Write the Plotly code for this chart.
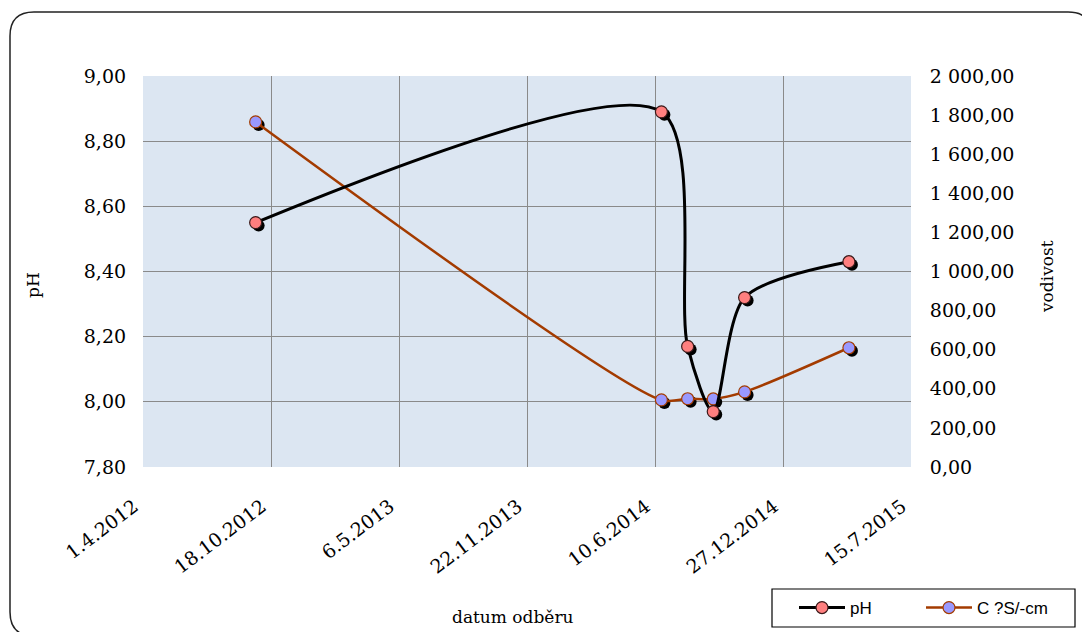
import plotly.graph_objects as go
import pandas as pd

# ---------------- data ----------------
DATES = ["2012-09-24", "2014-06-20", "2014-07-31", "2014-09-09", "2014-10-28", "2015-04-09"]
PH = [8.55, 8.89, 8.17, 7.97, 8.32, 8.43]
COND = [1765, 343, 349, 348, 384, 610]

X_TICKS = ["2012-04-01", "2012-10-18", "2013-05-06", "2013-11-22", "2014-06-10", "2014-12-27", "2015-07-15"]
X_TICK_TEXT = ["1.4.2012", "18.10.2012", "6.5.2013", "22.11.2013", "10.6.2014", "27.12.2014", "15.7.2015"]
PH_RANGE = [7.8, 9.0]
PH_DTICK = 0.2
COND_RANGE = [0, 2000]
COND_DTICK = 200

SERIES_NAMES = ["pH", "C ?S/-cm"]
X_TITLE = "datum odběru"
Y_TITLE = "pH"
Y2_TITLE = "vodivost"

# ---------------- layout geometry (pixels) ----------------
W, H = 1082, 632
L, R, T, B = 143, 911, 76, 467
PW, PH_PX = R - L, B - T
SHADOW = 3  # px

def px_x(p):
    return (p - L) / PW

def px_y(p):
    return (B - p) / PH_PX

SERIF = "DejaVu Serif"
SANS = "Liberation Sans"

x0 = pd.Timestamp(X_TICKS[0])
x1 = pd.Timestamp(X_TICKS[-1])
days_per_px = (x1 - x0).days / PW
dx = pd.Timedelta(days=SHADOW * days_per_px)
ph_per_px = (PH_RANGE[1] - PH_RANGE[0]) / PH_PX
cond_per_px = (COND_RANGE[1] - COND_RANGE[0]) / PH_PX

fig = go.Figure()

# shadows (drawn first)
fig.add_trace(go.Scatter(x=DATES, y=PH, xaxis="x2", yaxis="y3", mode="markers",
                         marker=dict(size=12, color="black"), showlegend=False,
                         hoverinfo="skip", zorder=0))
fig.add_trace(go.Scatter(x=DATES, y=COND, xaxis="x2", yaxis="y4", mode="markers",
                         marker=dict(size=12, color="black"), showlegend=False,
                         hoverinfo="skip", zorder=0))

fig.add_trace(go.Scatter(x=DATES, y=PH, name=SERIES_NAMES[0], mode="lines+markers",
                         line=dict(color="black", width=3, shape="spline", smoothing=0.8),
                         marker=dict(size=12, color="#FF7F7F", line=dict(color="#3a1a1a", width=1.2)),
                         zorder=2, legend="legend"))
fig.add_trace(go.Scatter(x=DATES, y=COND, name=SERIES_NAMES[1], yaxis="y2", mode="lines+markers",
                         line=dict(color="#A33B00", width=2.5, shape="spline", smoothing=0.8),
                         marker=dict(size=12, color="#9999FF", line=dict(color="#A33B00", width=1.2)),
                         zorder=1, legend="legend2"))

grid = "#8a8a8a"
leg_common = dict(orientation="h", xanchor="left", yanchor="top",
                  borderwidth=0, bgcolor="rgba(0,0,0,0)",
                  font=dict(family=SANS, size=17), itemwidth=46)
fig.update_layout(
    width=W, height=H,
    margin=dict(l=L, r=W - R, t=T, b=H - B, pad=0, autoexpand=False),
    paper_bgcolor="white",
    plot_bgcolor="#DCE6F2",
    separators=", ",
    font=dict(family=SERIF, size=19, color="black"),
    xaxis=dict(type="date", range=[x0, x1], tickvals=X_TICKS, ticktext=X_TICK_TEXT,
               tickangle=-37, showgrid=True, gridcolor=grid, gridwidth=1,
               showline=True, linecolor="#333", linewidth=1.2, mirror=True,
               ticks="outside", ticklen=20, tickcolor="rgba(0,0,0,0)",
               ticklabelshift=-9,
               zeroline=False, automargin=False),
    yaxis=dict(range=PH_RANGE, dtick=PH_DTICK, tick0=PH_RANGE[0], tickformat=",.2f",
               showgrid=True, gridcolor=grid, gridwidth=1,
               showline=True, linecolor="#333", linewidth=1.2, mirror=True,
               ticks="outside", ticklen=12, tickcolor="rgba(0,0,0,0)", zeroline=False,
               automargin=False),
    yaxis2=dict(range=COND_RANGE, dtick=COND_DTICK, tick0=0, tickformat=",.2f",
                overlaying="y", side="right", showgrid=False,
                ticks="outside", ticklen=14, tickcolor="rgba(0,0,0,0)", zeroline=False,
                automargin=False),
    xaxis2=dict(type="date", overlaying="x", visible=False,
                range=[x0 - dx, x1 - dx]),
    yaxis3=dict(overlaying="y", visible=False,
                range=[PH_RANGE[0] + SHADOW * ph_per_px, PH_RANGE[1] + SHADOW * ph_per_px]),
    yaxis4=dict(overlaying="y", visible=False,
                range=[COND_RANGE[0] + SHADOW * cond_per_px, COND_RANGE[1] + SHADOW * cond_per_px]),
    legend=dict(x=px_x(794), y=px_y(590), **leg_common),
    legend2=dict(x=px_x(921), y=px_y(590), **leg_common),
    showlegend=True,
)

fig.add_annotation(text=X_TITLE, xref="paper", yref="paper", x=px_x(513), y=px_y(617),
                   xanchor="center", yanchor="middle",
                   showarrow=False, font=dict(family=SERIF, size=17))
fig.add_annotation(text=Y_TITLE, xref="paper", yref="paper", x=px_x(33), y=px_y(285),
                   xanchor="center", yanchor="middle",
                   showarrow=False, textangle=-90, font=dict(family=SERIF, size=17))
fig.add_annotation(text=Y2_TITLE, xref="paper", yref="paper", x=px_x(1047), y=px_y(277),
                   xanchor="center", yanchor="middle",
                   showarrow=False, textangle=-90, font=dict(family=SERIF, size=17))

# outer rounded frame
fl, ft, fr, fb, rad = 10, 12, 1092, 636, 24
def P(x, y):
    return f"{px_x(x):.5f},{px_y(y):.5f}"
path = (f"M {P(fl + rad, ft)} L {P(fr - rad, ft)} Q {P(fr, ft)} {P(fr, ft + rad)} "
        f"L {P(fr, fb - rad)} Q {P(fr, fb)} {P(fr - rad, fb)} "
        f"L {P(fl + rad, fb)} Q {P(fl, fb)} {P(fl, fb - rad)} "
        f"L {P(fl, ft + rad)} Q {P(fl, ft)} {P(fl + rad, ft)} Z")
fig.add_shape(type="path", path=path, xref="paper", yref="paper",
              line=dict(color="#222", width=1.5), layer="below")

# legend box
fig.add_shape(type="rect", xref="paper", yref="paper",
              x0=px_x(772), x1=px_x(1075), y0=px_y(589), y1=px_y(627),
              line=dict(color="black", width=1.2), fillcolor="white", layer="above")

fig.write_html("out.html", config={"displayModeBar": False},
               post_script="document.body.style.margin='0';document.body.style.overflow='hidden';")
